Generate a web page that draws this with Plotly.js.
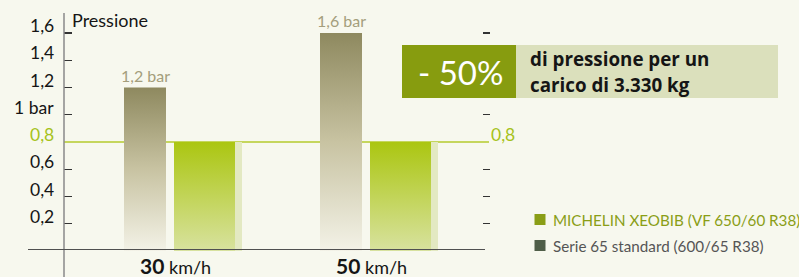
<!DOCTYPE html>
<html>
<head>
<meta charset="utf-8">
<script src="https://cdn.plot.ly/plotly-3.0.1.min.js"></script>
<style>
  html, body { margin: 0; padding: 0; background: #f7f8ee; }
  #chart { width: 799px; height: 277px; }
</style>
</head>
<body>
<div id="chart"></div>
<script>
// ---------- data ----------
const categories = ['30', '50'];
const categoryUnit = 'km/h';
const seriesNames = ['MICHELIN XEOBIB (VF 650/60 R38)', 'Serie 65 standard (600/65 R38)'];
const standardValues = [1.2, 1.6];
const xeobibValues = [0.8, 0.8];
const standardLabels = ['1,2 bar', '1,6 bar'];
const tickValues = [0.2, 0.4, 0.6, 0.8, 1.0, 1.2, 1.4, 1.6];
const tickLabels = ['0,2', '0,4', '0,6', '0,8', '1 bar', '1,2', '1,4', '1,6'];
const highlightValue = 0.8;
const highlightLabel = '0,8';
const axisTitle = 'Pressione';
const calloutBig = '- 50%';
const calloutLines = ['di pressione per un', 'carico di 3.330 kg'];

// ---------- geometry / style ----------
const W = 799, H = 277;
const M = { l: 64, r: 309, t: 13, b: 26 };
const PW = W - M.l - M.r, PH = H - M.t - M.b;
const groupPx = 196, firstCenterPx = 175;
const xRange = [(M.l - firstCenterPx) / groupPx, (W - M.r - firstCenterPx) / groupPx];
const yRange = [0, 1.7468];
const px2x = px => (px - M.l) / PW;
const py2y = py => (H - M.b - py) / PH;
const u = px => px / groupPx;

const stdOff = [u(-51), u(-9)];
const xeoOff = [u(-1), u(60)];
const stripOff = [u(60), u(67)];

const FONT = 'Lato, "Open Sans", sans-serif';
const FONT_BOLD = '"Open Sans", Lato, sans-serif';
const BG = '#f7f8ee';
const TAN_TOP = '#8e895f', TAN_BOT = '#f3f2e7';
const GREEN_TOP = '#abc611', GREEN_BOT = '#d8e29f';
const STRIP = '#e3e9c2';
const LINE_GREEN = '#b4cb2c';
const LABEL_GREEN = '#a6c21a';

function rect(c, off, v) {
  return {
    x: [c + off[0], c + off[1], c + off[1], c + off[0], c + off[0]],
    y: [0, 0, v, v, 0]
  };
}

const traces = [];
categories.forEach((cat, i) => {
  const s = rect(i, stdOff, standardValues[i]);
  traces.push({
    type: 'scatter', mode: 'lines', x: s.x, y: s.y, fill: 'toself',
    line: { width: 0 }, hoverinfo: 'skip', showlegend: false,
    fillgradient: { type: 'vertical', colorscale: [[0, TAN_BOT], [0.5, '#c8c3a2'], [1, TAN_TOP]] }
  });
  const st = rect(i, stripOff, xeobibValues[i]);
  traces.push({
    type: 'scatter', mode: 'lines', x: st.x, y: st.y, fill: 'toself',
    line: { width: 0 }, fillcolor: STRIP, hoverinfo: 'skip', showlegend: false
  });
  const g = rect(i, xeoOff, xeobibValues[i]);
  traces.push({
    type: 'scatter', mode: 'lines', x: g.x, y: g.y, fill: 'toself',
    line: { width: 0 }, hoverinfo: 'skip', showlegend: false,
    fillgradient: { type: 'vertical', colorscale: [[0, GREEN_BOT], [1, GREEN_TOP]] }
  });
});

// ---------- shapes ----------
const shapes = [
  { type: 'line', layer: 'below', xref: 'paper', yref: 'y', x0: 0, x1: px2x(489), y0: highlightValue, y1: highlightValue,
    line: { color: LINE_GREEN, width: 1.3 } },
  { type: 'line', xref: 'paper', yref: 'paper', x0: 0, x1: 0, y0: py2y(H), y1: 1,
    line: { color: '#8a8a8a', width: 1.5 } },
  { type: 'line', xref: 'paper', yref: 'paper', x0: px2x(28), x1: px2x(485), y0: py2y(249.5), y1: py2y(249.5),
    line: { color: '#505050', width: 1.2 } },
  { type: 'rect', layer: 'above', xref: 'paper', yref: 'paper', x0: px2x(402), x1: px2x(516), y0: py2y(98), y1: py2y(45),
    fillcolor: '#879c0f', line: { width: 0 } },
  { type: 'rect', layer: 'above', xref: 'paper', yref: 'paper', x0: px2x(516), x1: px2x(778), y0: py2y(98), y1: py2y(45),
    fillcolor: '#dbe0bc', line: { width: 0 } }
];

const legendColors = ['#8a9e16', '#4f5e48'];
const legendTextColors = ['#8a9e16', '#555555'];
const legendRows = [219.5, 245.5];
seriesNames.forEach((name, i) => {
  shapes.push({ type: 'rect', xref: 'paper', yref: 'paper',
    x0: px2x(534.5), x1: px2x(545.5), y0: py2y(legendRows[i] + 5.5), y1: py2y(legendRows[i] - 5.5),
    fillcolor: legendColors[i], line: { width: 0 } });
});

// ---------- annotations ----------
const annotations = [];
tickValues.forEach((v, i) => {
  annotations.push({
    xref: 'paper', yref: 'y', x: 0, y: v, xanchor: 'right', yanchor: 'bottom',
    xshift: -8, yshift: -5, showarrow: false, text: tickLabels[i],
    font: { family: FONT, size: 17.5, color: v === highlightValue ? LABEL_GREEN : '#151515' }
  });
});
annotations.push({
  xref: 'paper', yref: 'y', x: 1, y: highlightValue, xanchor: 'left', yanchor: 'bottom',
  xshift: -1, yshift: -5, showarrow: false, text: highlightLabel,
  font: { family: FONT, size: 17.5, color: LABEL_GREEN }
});
annotations.push({
  xref: 'paper', yref: 'paper', x: 0, y: py2y(20), xanchor: 'left', yanchor: 'middle',
  xshift: 6, showarrow: false, text: axisTitle,
  font: { family: FONT, size: 18, color: '#151515' }
});
categories.forEach((cat, i) => {
  annotations.push({
    xref: 'x', yref: 'paper', x: i, y: py2y(265), xanchor: 'center', yanchor: 'middle',
    showarrow: false, text: '<b style="font-size:21px">' + cat + '</b> ' + categoryUnit,
    font: { family: FONT, size: 18, color: '#151515' }
  });
  annotations.push({
    xref: 'x', yref: 'y', x: i + (stdOff[0] + stdOff[1]) / 2, y: standardValues[i],
    xanchor: 'center', yanchor: 'bottom', yshift: 1, showarrow: false, text: standardLabels[i],
    font: { family: FONT, size: 16, color: '#a49e7c' }
  });
});
annotations.push({
  xref: 'paper', yref: 'paper', x: px2x(460), y: py2y(71.5), xanchor: 'center', yanchor: 'middle',
  showarrow: false, text: calloutBig, font: { family: FONT, size: 33, color: '#ffffff' }
});
const calloutRows = [58.5, 84.5];
calloutLines.forEach((line, i) => {
  annotations.push({
    xref: 'paper', yref: 'paper', x: px2x(528), y: py2y(calloutRows[i]), xanchor: 'left', yanchor: 'middle',
    showarrow: false, text: '<b>' + line + '</b>',
    font: { family: FONT_BOLD, size: 18.8, color: '#151515' }
  });
});
seriesNames.forEach((name, i) => {
  annotations.push({
    xref: 'paper', yref: 'paper', x: px2x(551), y: py2y(legendRows[i]), xanchor: 'left', yanchor: 'middle',
    showarrow: false, text: name, font: { family: FONT, size: 15.2, color: legendTextColors[i] }
  });
});

const tickMarkVals = tickValues.filter(v => v !== highlightValue);

const layout = {
  width: W, height: H, margin: M,
  paper_bgcolor: BG, plot_bgcolor: BG,
  showlegend: false,
  xaxis: { range: xRange, visible: false, fixedrange: true },
  yaxis: {
    range: yRange, showgrid: false, zeroline: false, showline: false,
    tickvals: tickMarkVals, ticks: 'inside', ticklen: 8, tickwidth: 1.3, tickcolor: '#333333',
    showticklabels: false, fixedrange: true
  },
  yaxis2: {
    range: yRange, overlaying: 'y', side: 'right', showgrid: false, zeroline: false, showline: false,
    tickvals: tickMarkVals, ticks: 'inside', ticklen: 7, tickwidth: 1.3, tickcolor: '#333333',
    showticklabels: false, fixedrange: true
  },
  shapes: shapes,
  annotations: annotations
};

traces.push({ type: 'scatter', mode: 'markers', x: [0], y: [0], yaxis: 'y2', marker: { opacity: 0 }, hoverinfo: 'skip', showlegend: false });

Plotly.newPlot('chart', traces, layout, { staticPlot: true, displayModeBar: false });
</script>
</body>
</html>
